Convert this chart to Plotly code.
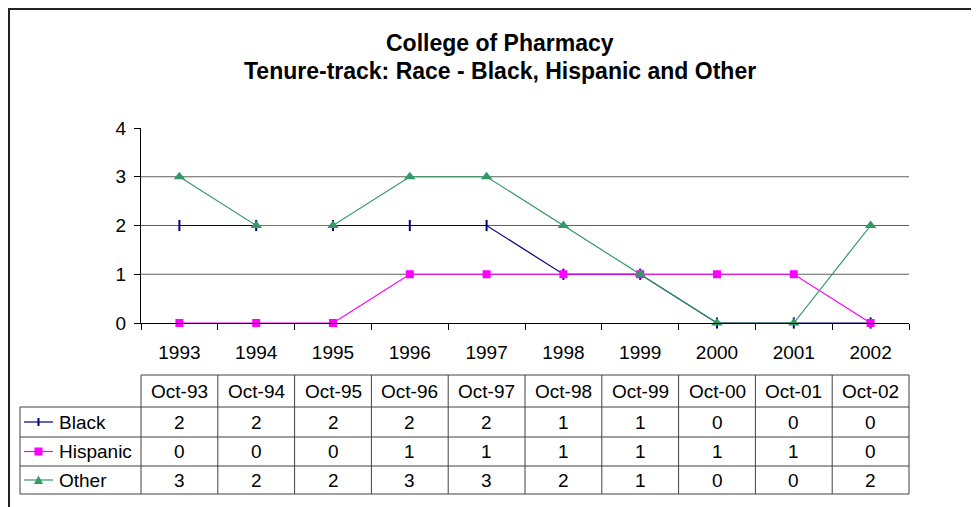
import plotly.graph_objects as go

# ---- data ----
years = ["1993", "1994", "1995", "1996", "1997", "1998", "1999", "2000", "2001", "2002"]
dates = ["Oct-93", "Oct-94", "Oct-95", "Oct-96", "Oct-97", "Oct-98", "Oct-99", "Oct-00", "Oct-01", "Oct-02"]
black = [2, 2, 2, 2, 2, 1, 1, 0, 0, 0]
hispanic = [0, 0, 0, 1, 1, 1, 1, 1, 1, 0]
other = [3, 2, 2, 3, 3, 2, 1, 0, 0, 2]
series_names = ["Black", "Hispanic", "Other"]
title_lines = ["College of Pharmacy", "Tenure-track: Race - Black, Hispanic and Other"]

# ---- layout geometry (pixels, page coords; page has 8px body margin) ----
W, H = 979, 507
OFF = 8
PL, PR, PT, PB = 141, 909, 128, 323
FONT = "Liberation Sans, Arial, sans-serif"
NAVY, MAG, GREEN = "#000080", "#FF00FF", "#339966"
colors = [NAVY, MAG, GREEN]


def px(x):
    return (x - PL) / (PR - PL)


def py(y):
    return (PB - y) / (PB - PT)


fig = go.Figure()
series = [black, hispanic, other]
symbols = ["line-ns-open", "square", "triangle-up"]
sizes = [8, 8, 10]
for name, vals, col, sym, sz in zip(series_names, series, colors, symbols, sizes):
    fig.add_trace(go.Scatter(
        x=years, y=vals, name=name, mode="lines+markers",
        line=dict(color=col, width=1.2),
        marker=dict(symbol=sym, size=sz, color=col,
                    line=dict(color=col, width=2 if sym == "line-ns-open" else 0)),
        cliponaxis=False,
    ))

shapes = []
annotations = []

# gridlines 1..3
for v in [1, 2, 3]:
    shapes.append(dict(type="line", xref="paper", yref="y", x0=0, x1=1, y0=v, y1=v,
                       line=dict(color="#606060", width=1), layer="below"))

# outer frame (as close to the page edge as the figure allows)
shapes.append(dict(type="rect", xref="paper", yref="paper",
                   x0=px(OFF + 1), x1=px(1000), y0=py(530), y1=py(OFF + 1),
                   line=dict(color="#222222", width=2)))

# table geometry
T_HEAD_TOP, T_HEAD_BOT = 375, 407
row_bounds = [407, 437, 466, 494]
LEG_L = 20
colw = (PR - PL) / len(years)
tl = dict(color="#404040", width=1)
shapes.append(dict(type="line", xref="paper", yref="paper", x0=px(PL), x1=px(PR),
                   y0=py(T_HEAD_TOP), y1=py(T_HEAD_TOP), line=tl))
for yb in row_bounds:
    shapes.append(dict(type="line", xref="paper", yref="paper", x0=px(LEG_L), x1=px(PR),
                       y0=py(yb), y1=py(yb), line=tl))
shapes.append(dict(type="line", xref="paper", yref="paper", x0=px(LEG_L), x1=px(LEG_L),
                   y0=py(row_bounds[0]), y1=py(row_bounds[-1]), line=tl))
for i in range(len(years) + 1):
    xb = PL + i * colw
    shapes.append(dict(type="line", xref="paper", yref="paper", x0=px(xb), x1=px(xb),
                       y0=py(T_HEAD_TOP), y1=py(row_bounds[-1]), line=tl))

TF = dict(family=FONT, size=19, color="black")
for i, d in enumerate(dates):
    annotations.append(dict(text=d, xref="x", yref="paper", x=i, y=py((T_HEAD_TOP + T_HEAD_BOT) / 2),
                            showarrow=False, font=TF, xanchor="center", yanchor="middle"))
for r, (name, vals, col) in enumerate(zip(series_names, series, colors)):
    yc = (row_bounds[r] + row_bounds[r + 1]) / 2
    for i, v in enumerate(vals):
        annotations.append(dict(text=str(v), xref="x", yref="paper", x=i, y=py(yc),
                                showarrow=False, font=TF, xanchor="center", yanchor="middle"))
    annotations.append(dict(text=name, xref="paper", yref="paper", x=px(57), y=py(yc),
                            showarrow=False, font=TF, xanchor="left", yanchor="middle"))
    shapes.append(dict(type="line", xref="paper", yref="paper", x0=px(24), x1=px(53),
                       y0=py(yc), y1=py(yc), line=dict(color=col, width=1.2)))
    mx = 38.5
    if r == 0:
        shapes.append(dict(type="line", xref="paper", yref="paper", x0=px(mx), x1=px(mx),
                           y0=py(yc - 4), y1=py(yc + 4), line=dict(color=col, width=2)))
    elif r == 1:
        shapes.append(dict(type="rect", xref="paper", yref="paper", x0=px(mx - 4), x1=px(mx + 4),
                           y0=py(yc + 4), y1=py(yc - 4), fillcolor=col, line=dict(width=0)))
    else:
        path = "M {} {} L {} {} L {} {} Z".format(px(mx - 4.5), py(yc + 4), px(mx + 4.5), py(yc + 4),
                                                  px(mx), py(yc - 4.5))
        shapes.append(dict(type="path", xref="paper", yref="paper", path=path,
                           fillcolor=col, line=dict(width=0)))

for t, yy in zip(title_lines, [43, 71]):
    annotations.append(dict(text="<b>" + t + "</b>", xref="paper", yref="paper", x=px(500), y=py(yy),
                            showarrow=False, font=dict(family=FONT, size=23, color="black"),
                            xanchor="center", yanchor="middle"))

fig.update_layout(
    width=W, height=H,
    margin=dict(l=PL - OFF, r=W - (PR - OFF), t=PT - OFF, b=H - (PB - OFF), autoexpand=False),
    paper_bgcolor="white", plot_bgcolor="white",
    showlegend=False,
    shapes=shapes, annotations=annotations,
    font=dict(family=FONT, size=19, color="black"),
    xaxis=dict(type="category", range=[-0.5, 9.5], showgrid=False, zeroline=False,
               showline=True, linecolor="black", linewidth=1,
               ticks="outside", tickson="boundaries", ticklen=6, tickcolor="black",
               tickfont=dict(family=FONT, size=19, color="black"), ticklabelstandoff=12,
               fixedrange=True),
    yaxis=dict(range=[0, 4], dtick=1, showgrid=False, zeroline=False,
               showline=True, linecolor="black", linewidth=1,
               ticks="outside", ticklen=6, tickcolor="black",
               tickfont=dict(family=FONT, size=19, color="black"), ticklabelstandoff=4,
               fixedrange=True),
)

fig.write_html("out.html")
